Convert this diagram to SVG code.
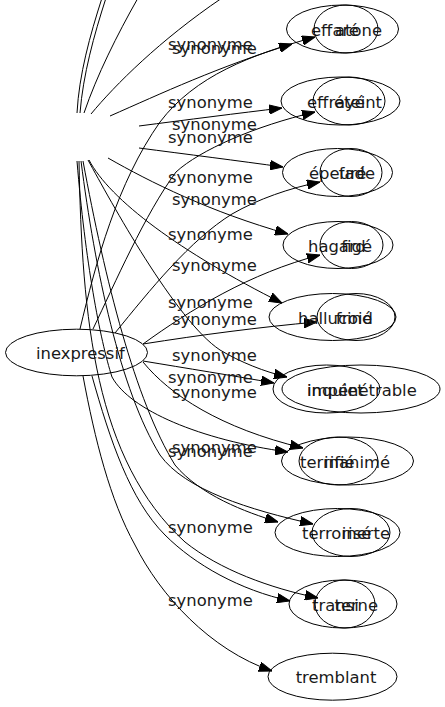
<svg xmlns="http://www.w3.org/2000/svg" width="445" height="707" viewBox="0 0 445 707">
<style>
  .n ellipse { fill: none; stroke: #000; stroke-width: 1; }
  .e path { fill: none; stroke: #000; stroke-width: 1; }
  .e path.a { marker-end: url(#arr); }
  text { font-family: "DejaVu Sans", "Liberation Sans", sans-serif; font-size: 16.4px; fill: #1a1a1a; }
</style>
<defs>
  <marker id="arr" viewBox="0 0 13 10" refX="13" refY="5" markerWidth="13" markerHeight="10" markerUnits="userSpaceOnUse" orient="auto">
    <path d="M0,0.3 L13,5 L0,9.7 z" fill="#000" stroke="#000" stroke-width="1"/>
  </marker>
</defs>
<rect x="0" y="0" width="445" height="707" fill="#fff"/>

<g id="connectors" class="e">
  <path d="M77,113 C79,75 90,35 102,-2"/>
  <path d="M80,113 C83,75 94,35 106,-2"/>
  <path d="M84,113 C97,75 117,35 138,-2"/>
  <path d="M91,114 C115,85 160,40 222,-2"/>
  <path class="a" d="M110,116 C160,94 220,66 292,44"/>
  <path class="a" d="M80,329 C96,262 117,183 160,122 C195,76 250,55 315,37"/>
  <path class="a" d="M139,126 C185,120 240,113 282,108"/>
  <path class="a" d="M93,329 C115,283 145,214 176,172 C200,150 255,126 315,112"/>
  <path class="a" d="M139,148 C185,154 240,161 283,167"/>
  <path class="a" d="M115,333 C150,290 190,240 232,214 C258,199 290,188 320,182"/>
  <path class="a" d="M108,158 C150,182 210,212 288,234"/>
  <path class="a" d="M143,344 C190,310 250,273 320,255"/>
  <path class="a" d="M89,160 C110,200 180,252 282,303"/>
  <path class="a" d="M143,344 C200,335 260,327 317,322"/>
  <path class="a" d="M88,160 C110,200 175,320 220,350 C240,362 265,372 287,377"/>
  <path class="a" d="M143,361 C185,368 235,376 274,383"/>
  <path class="a" d="M143,362 C170,395 220,428 303,448"/>
  <path class="a" d="M77,161 C85,260 100,340 112,377 C130,410 200,440 288,452"/>
  <path class="a" d="M81,161 C95,270 120,390 160,455 C185,490 250,510 313,524"/>
  <path class="a" d="M83,161 C105,280 135,400 175,465 C200,495 245,512 278,522"/>
  <path class="a" d="M79,161 C82,320 95,460 185,542 C220,570 270,588 318,598"/>
  <path class="a" d="M92,376 C110,440 130,500 165,535 C195,565 240,590 290,601"/>
  <path class="a" d="M83,376 C95,440 110,500 135,545 C160,595 210,650 272,671"/>
  <g class="l">
    <text x="168" y="50">synonyme</text>
    <text x="172" y="54">synonyme</text>
    <text x="168" y="108">synonyme</text>
    <text x="172" y="130">synonyme</text>
    <text x="168" y="143">synonyme</text>
    <text x="168" y="183">synonyme</text>
    <text x="172" y="205">synonyme</text>
    <text x="168" y="240">synonyme</text>
    <text x="172" y="271">synonyme</text>
    <text x="168" y="308">synonyme</text>
    <text x="172" y="325">synonyme</text>
    <text x="172" y="361">synonyme</text>
    <text x="168" y="383">synonyme</text>
    <text x="172" y="398">synonyme</text>
    <text x="172" y="453">synonyme</text>
    <text x="168" y="457">synonyme</text>
    <text x="168" y="533">synonyme</text>
    <text x="168" y="606">synonyme</text>
  </g>
</g>

<g id="inexpressif" class="n">
  <ellipse cx="76.5" cy="352.5" rx="71" ry="23.3"/>
  <text x="36" y="359">inexpressif</text>
</g>

<g id="effare" class="n">
  <ellipse cx="342.5" cy="29" rx="56" ry="24"/>
  <text x="311" y="35.5">effaré</text>
</g>
<g id="atone" class="n">
  <ellipse cx="346" cy="29" rx="32" ry="24"/>
  <text x="382" y="35.5" text-anchor="end">atone</text>
</g>

<g id="effraye" class="n">
  <ellipse cx="340.5" cy="101" rx="59.5" ry="24"/>
  <text x="307" y="107.5">effrayé</text>
</g>
<g id="eteint" class="n">
  <ellipse cx="349" cy="101" rx="36" ry="24"/>
  <text x="382" y="107.5" text-anchor="end">éteint</text>
</g>

<g id="epeure" class="n">
  <ellipse cx="337.5" cy="172.5" rx="55" ry="24"/>
  <text x="309" y="179">épeuré</text>
</g>
<g id="fade" class="n">
  <ellipse cx="351" cy="172.5" rx="31" ry="24"/>
  <text x="375" y="179" text-anchor="end">fade</text>
</g>

<g id="hagard" class="n">
  <ellipse cx="338" cy="245" rx="55" ry="23.5"/>
  <text x="308" y="251.5">hagard</text>
</g>
<g id="fige" class="n">
  <ellipse cx="351.5" cy="245" rx="31.5" ry="23.5"/>
  <text x="372" y="251.5" text-anchor="end">figé</text>
</g>

<g id="hallucine" class="n">
  <ellipse cx="332.5" cy="317" rx="63.5" ry="23.5"/>
  <text x="298" y="323.5">halluciné</text>
</g>
<g id="froid" class="n">
  <ellipse cx="356" cy="317" rx="39" ry="23.5"/>
  <text x="373" y="323.5" text-anchor="end">froid</text>
</g>

<g id="impenetrable" class="n">
  <ellipse cx="361" cy="389" rx="79" ry="24"/>
  <text x="307" y="395.5">impénétrable</text>
</g>
<g id="inquiet" class="n">
  <ellipse cx="326.5" cy="389" rx="53.5" ry="24"/>
  <text x="307" y="395.5">inquiet</text>
</g>

<g id="terrifie" class="n">
  <ellipse cx="338.5" cy="461" rx="39.5" ry="24"/>
  <text x="300" y="467.5">terrifié</text>
</g>
<g id="inanime" class="n">
  <ellipse cx="347.5" cy="461" rx="66" ry="24"/>
  <text x="390" y="467.5" text-anchor="end">inanimé</text>
</g>

<g id="terrorise" class="n">
  <ellipse cx="337.5" cy="532.5" rx="62.5" ry="24"/>
  <text x="302" y="539">terrorisé</text>
</g>
<g id="inerte" class="n">
  <ellipse cx="351" cy="532.5" rx="39" ry="24"/>
  <text x="390" y="539" text-anchor="end">inerte</text>
</g>

<g id="transi" class="n">
  <ellipse cx="343" cy="604" rx="54" ry="24"/>
  <text x="312" y="610.5">transi</text>
</g>
<g id="terne" class="n">
  <ellipse cx="345" cy="604" rx="30" ry="24"/>
  <text x="378" y="610.5" text-anchor="end">terne</text>
</g>

<g id="tremblant" class="n">
  <ellipse cx="332.5" cy="676.7" rx="64.5" ry="23.5"/>
  <text x="336" y="683" text-anchor="middle">tremblant</text>
</g>
</svg>
